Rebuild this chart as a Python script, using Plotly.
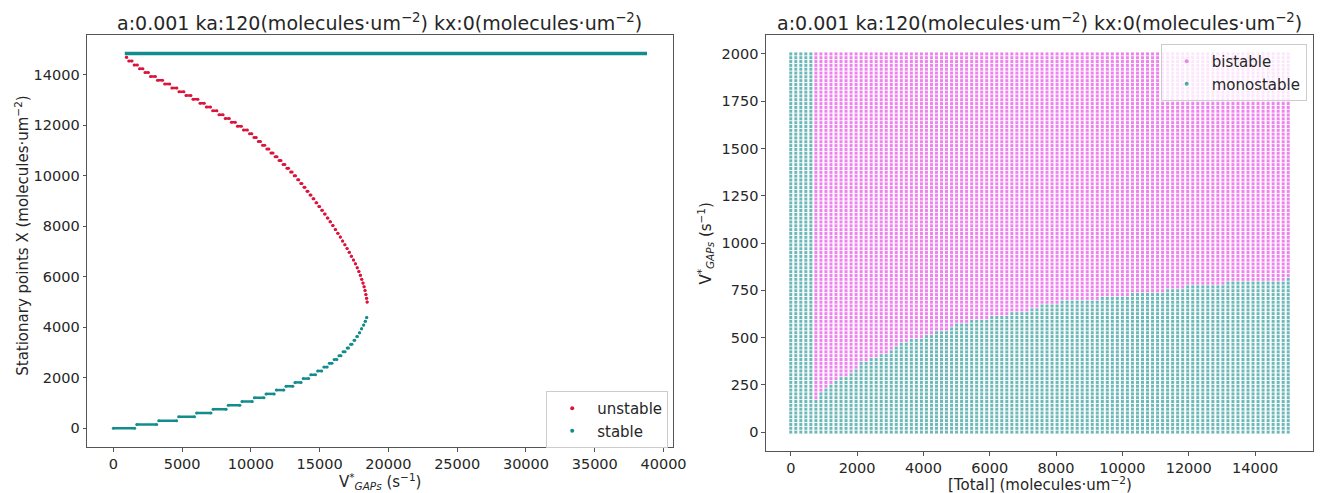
import numpy as np
import plotly.graph_objects as go

W, H = 1335, 493

# ---------------- data: left panel ----------------
# stationary-point grid (molecules/um^2)
X_GRID = np.linspace(0, 15000, 100)
# stable (low) branch: level index and V* where each level begins (last = end of last level)
stable_low_levels = list(range(0, 30))
stable_low_edges = [0, 1700, 3300, 4750, 6050, 7250, 8350, 9350, 10250, 11100,
                    11850, 12550, 13200, 13800, 14350, 14850, 15300, 15700, 16050,
                    16400, 16700, 17000, 17250, 17500, 17700, 17900, 18050, 18200,
                    18320, 18420, 18500]
# unstable branch: level index and V* at upper end of each level (last = lower end of last level)
unstable_levels = list(range(33, 98))
unstable_edges = [18450, 18410, 18360, 18300, 18230, 18150, 18060, 17960, 17850, 17730,
                  17600, 17460, 17310, 17160, 17000, 16840, 16680, 16510, 16340, 16160,
                  15980, 15790, 15600, 15400, 15200, 15000, 14790, 14580, 14370, 14150,
                  13930, 13710, 13480, 13250, 13000, 12740, 12470, 12190, 11900, 11610,
                  11310, 11010, 10700, 10390, 10070, 9750, 9310, 8870, 8430, 7980,
                  7530, 7070, 6610, 6150, 5640, 5130, 4620, 4100, 3580, 3060,
                  2550, 2150, 1750, 1360, 970, 800]
# stable (high) branch
stable_high_level = 98
stable_high_v = [830, 38800]

# ---------------- data: right panel ----------------
TOTAL_GRID = np.linspace(0, 15000, 100)
V_GRID = np.linspace(0, 2000, 100)
# lowest bistable V* for each Total column (None = no bistability)
bistable_onset = [None, None, None, None, None,
                  172, 212, 232, 253, 273, 293, 303, 323, 343, 364, 374, 384, 404, 414, 424,
                  434, 455, 465, 475, 485, 495, 505, 515, 525, 535, 545, 545, 556, 566, 576,
                  576, 586, 596, 596, 606, 616, 616, 626, 626, 636, 636, 646, 646, 657, 657,
                  667, 667, 677, 677, 687, 687, 687, 697, 697, 707, 707, 707, 717, 717, 717,
                  727, 727, 727, 737, 737, 737, 747, 747, 747, 747, 758, 758, 758, 758, 768,
                  768, 768, 768, 778, 778, 778, 778, 788, 788, 788, 788, 798, 798, 798, 798,
                  808, 808, 808, 808, 818]

title_text = "a:0.001 ka:120(molecules·um<sup>−2</sup>) kx:0(molecules·um<sup>−2</sup>)"

CRIMSON = "#dc143c"
TEAL = "#138c8c"
VIOLET = "#ee82ee"
MONO = "rgba(20,140,140,0.62)"
FONT = "DejaVu Sans"
TXT = "#262626"

fig = go.Figure()


def dash_trace(levels, lo, hi, color, xa, ya):
    xs, ys = [], []
    for k, a, b in zip(levels, lo, hi):
        y = X_GRID[k]
        xs += [a, b, None]
        ys += [y, y, None]
    return go.Scatter(x=xs, y=ys, mode="lines+markers", xaxis=xa, yaxis=ya,
                      line=dict(color=color, width=2.5),
                      marker=dict(color=color, size=3), showlegend=False,
                      hoverinfo="skip")


gap = 150
lo = [stable_low_edges[i] for i in range(len(stable_low_levels))]
hi = [max(stable_low_edges[i + 1] - gap, stable_low_edges[i]) for i in range(len(stable_low_levels))]
fig.add_trace(dash_trace(stable_low_levels, lo, hi, TEAL, "x", "y"))

ulo = [min(unstable_edges[i + 1] + gap, unstable_edges[i]) for i in range(len(unstable_levels))]
uhi = [unstable_edges[i] for i in range(len(unstable_levels))]
fig.add_trace(dash_trace(unstable_levels, ulo, uhi, CRIMSON, "x", "y"))

fig.add_trace(go.Scatter(x=stable_high_v, y=[X_GRID[stable_high_level]] * 2, mode="lines",
                         line=dict(color=TEAL, width=3.5), showlegend=False, xaxis="x", yaxis="y"))

# legend proxies (left)
fig.add_trace(go.Scatter(x=[None], y=[None], mode="markers", name="unstable",
                         marker=dict(color=CRIMSON, size=4), legend="legend", xaxis="x", yaxis="y"))
fig.add_trace(go.Scatter(x=[None], y=[None], mode="markers", name="stable",
                         marker=dict(color=TEAL, size=4), legend="legend", xaxis="x", yaxis="y"))

# right panel grid
bx, by, mx, my = [], [], [], []
for T, onset in zip(TOTAL_GRID, bistable_onset):
    for v in V_GRID:
        if onset is not None and v >= onset - 1e-6:
            bx.append(T); by.append(v)
        else:
            mx.append(T); my.append(v)

fig.add_trace(go.Scatter(x=bx, y=by, mode="markers", showlegend=False, xaxis="x2", yaxis="y2",
                         marker=dict(color=VIOLET, size=3, symbol="square", line=dict(width=0)),
                         hoverinfo="skip"))
fig.add_trace(go.Scatter(x=mx, y=my, mode="markers", showlegend=False, xaxis="x2", yaxis="y2",
                         marker=dict(color=MONO, size=3, symbol="square", line=dict(width=0)),
                         hoverinfo="skip"))
fig.add_trace(go.Scatter(x=[None], y=[None], mode="markers", name="bistable", xaxis="x2", yaxis="y2",
                         marker=dict(color=VIOLET, size=4), legend="legend2"))
fig.add_trace(go.Scatter(x=[None], y=[None], mode="markers", name="monostable", xaxis="x2", yaxis="y2",
                         marker=dict(color="#4fa8a8", size=4), legend="legend2"))

axis_common = dict(showline=True, linecolor="#555", linewidth=1, mirror=True,
                   ticks="outside", ticklen=3.5, tickcolor="#555", showgrid=False, zeroline=False,
                   tickformat="d", tickfont=dict(family=FONT, size=14.5, color=TXT))

fig.update_layout(
    width=W, height=H, margin=dict(l=0, r=0, t=0, b=0),
    plot_bgcolor="white", paper_bgcolor="white",
    font=dict(family=FONT, color=TXT),
    xaxis=dict(domain=[88 / W, 680 / W], range=[-1910, 40680], tickvals=list(range(0, 40001, 5000)), **axis_common),
    yaxis=dict(domain=[1 - 447 / H, 1 - 34.5 / H], range=[-740, 15600], tickvals=list(range(0, 14001, 2000)), anchor="x", **axis_common),
    xaxis2=dict(domain=[774 / W, 1327 / W], range=[-750, 15750], tickvals=list(range(0, 14001, 2000)), anchor="y2", **axis_common),
    yaxis2=dict(domain=[1 - 451 / H, 1 - 35 / H], range=[-100, 2100], tickvals=list(range(0, 2001, 250)), anchor="x2", **axis_common),
    legend=dict(x=552 / W, y=1 - 391 / H, xanchor="left", yanchor="top", itemwidth=40,
                bgcolor="rgba(255,255,255,0.8)", bordercolor="#ccc", borderwidth=1,
                font=dict(family=FONT, size=15, color=TXT)),
    legend2=dict(x=1173 / W, y=1 - 44 / H, xanchor="left", yanchor="top", itemwidth=40,
                 bgcolor="rgba(255,255,255,0.8)", bordercolor="#ccc", borderwidth=1,
                 font=dict(family=FONT, size=15, color=TXT)),
)

ann = []
for cx in [(88 + 680) / 2, (774 + 1327) / 2]:
    ann.append(dict(text=title_text, x=cx / W, y=1 - 22 / H, xref="paper", yref="paper",
                    xanchor="center", yanchor="middle",
                    showarrow=False, font=dict(family=FONT, size=19, color=TXT)))
ann.append(dict(text="V<sup>*</sup><sub><i>GAPs</i></sub> (s<sup>−1</sup>)", x=384 / W, y=1 - 481 / H,
                xref="paper", yref="paper", xanchor="center", yanchor="middle",
                showarrow=False, font=dict(family=FONT, size=15, color=TXT)))
ann.append(dict(text="[Total] (molecules·um<sup>−2</sup>)", x=1051 / W, y=1 - 484 / H,
                xref="paper", yref="paper", xanchor="center", yanchor="middle",
                showarrow=False, font=dict(family=FONT, size=15, color=TXT)))
ann.append(dict(text="Stationary points X (molecules·um<sup>−2</sup>)", x=22 / W, y=1 - 236 / H,
                xref="paper", yref="paper", xanchor="center", yanchor="middle",
                showarrow=False, textangle=-90,
                font=dict(family=FONT, size=15, color=TXT)))
ann.append(dict(text="V<sup>*</sup><sub><i>GAPs</i></sub> (s<sup>−1</sup>)", x=712 / W, y=1 - 244 / H,
                xref="paper", yref="paper", xanchor="center", yanchor="middle",
                showarrow=False, textangle=-90,
                font=dict(family=FONT, size=15, color=TXT)))
fig.update_layout(annotations=ann)

fig.write_html("out.html")
